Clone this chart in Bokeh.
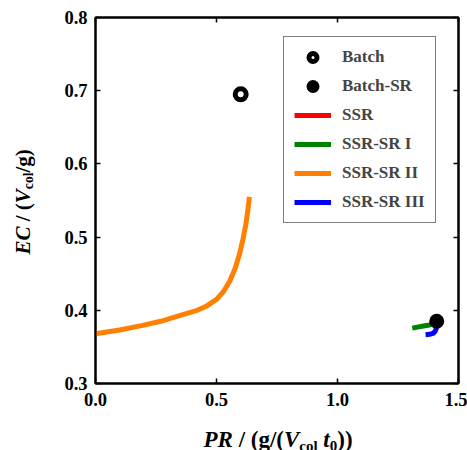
import math

from bokeh.embed import file_html
from bokeh.layouts import column, row
from bokeh.models import (FixedTicker, Label, Legend, LegendItem, LinearAxis,
                          NumeralTickFormatter, Range1d)
from bokeh.plotting import figure
from bokeh.resources import INLINE

# ---------------------------------------------------------------------------
# Data: productivity PR vs. eluent consumption EC
# ---------------------------------------------------------------------------
batch_pr = [0.600]
batch_ec = [0.695]

batch_sr_pr = [1.410]
batch_sr_ec = [0.385]

ssr_pr = [1.390, 1.400, 1.410]
ssr_ec = [0.382, 0.383, 0.385]

ssr_sr1_pr = [1.309, 1.330, 1.355, 1.380, 1.400, 1.410]
ssr_sr1_ec = [0.3757, 0.3770, 0.3785, 0.3800, 0.3820, 0.3850]

ssr_sr2_pr = [0.000, 0.100, 0.190, 0.270, 0.350, 0.420, 0.460, 0.500,
              0.530, 0.555, 0.578, 0.596, 0.610, 0.621, 0.629, 0.636]
ssr_sr2_ec = [0.368, 0.373, 0.379, 0.385, 0.393, 0.400, 0.406, 0.415,
              0.426, 0.440, 0.458, 0.478, 0.498, 0.517, 0.535, 0.555]

ssr_sr3_pr = [1.364, 1.380, 1.395, 1.403, 1.408, 1.411]
ssr_sr3_ec = [0.3667, 0.3672, 0.3685, 0.3710, 0.3750, 0.3800]

x_ticks = [0.0, 0.5, 1.0, 1.5]
y_ticks = [0.3, 0.4, 0.5, 0.6, 0.7, 0.8]

FONT = "Liberation Serif"

# Panel sizes (px)
YLAB_W = 40
MAIN_W = 427
MAIN_H = 415
XLAB_H = 35
BORDER_L = 55
BORDER_R = 9

p = figure(width=MAIN_W, height=MAIN_H,
           x_range=Range1d(0.0, 1.5), y_range=Range1d(0.3, 0.8),
           x_axis_type=None, y_axis_type=None,
           output_backend="svg", toolbar_location=None,
           min_border_left=BORDER_L, min_border_right=BORDER_R,
           min_border_top=17, min_border_bottom=32,
           background_fill_color="white", border_fill_color="white",
           outline_line_color="black", outline_line_width=2)
p.grid.visible = False


def make_axis(ticks, labels, standoff=8):
    ax = LinearAxis(ticker=FixedTicker(ticks=ticks),
                    formatter=NumeralTickFormatter(format="0.0"),
                    major_tick_in=5, major_tick_out=0,
                    minor_tick_in=0, minor_tick_out=0,
                    axis_line_width=2, axis_line_color="black",
                    major_tick_line_width=1.5, major_tick_line_color="black",
                    major_label_text_font=FONT,
                    major_label_text_font_style="bold",
                    major_label_text_font_size="18.5px",
                    major_label_text_color="black",
                    major_label_standoff=standoff)
    if not labels:
        # mirrored axis: ticks only
        ax.major_label_text_color = None
        ax.major_label_standoff = 0
    return ax


p.add_layout(make_axis(x_ticks, True, 9), "below")
p.add_layout(make_axis(y_ticks, True, 8), "left")
p.add_layout(make_axis(x_ticks, False), "above")
p.add_layout(make_axis(y_ticks, False), "right")

# Curves
line_kw = dict(line_width=5, line_join="round")
r_ssr = p.line(ssr_pr, ssr_ec, line_color="#ff0000", **line_kw)
r_sr1 = p.line(ssr_sr1_pr, ssr_sr1_ec, line_color="#008000", **line_kw)
r_sr2 = p.line(ssr_sr2_pr, ssr_sr2_ec, line_color="#ff8000", **line_kw)
r_sr3 = p.line(ssr_sr3_pr, ssr_sr3_ec, line_color="#0000ff", **line_kw)

# Batch points
r_batch = p.scatter(batch_pr, batch_ec, marker="circle", size=11,
                    fill_color="white", line_color="black", line_width=5)
r_batch_sr = p.scatter(batch_sr_pr, batch_sr_ec, marker="circle", size=10,
                       fill_color="black", line_color="black", line_width=5)

legend = Legend(items=[
    LegendItem(label="Batch", renderers=[r_batch]),
    LegendItem(label="Batch-SR", renderers=[r_batch_sr]),
    LegendItem(label="SSR", renderers=[r_ssr]),
    LegendItem(label="SSR-SR I", renderers=[r_sr1]),
    LegendItem(label="SSR-SR II", renderers=[r_sr2]),
    LegendItem(label="SSR-SR III", renderers=[r_sr3]),
], location=(188, 160))
legend.border_line_color = "black"
legend.border_line_width = 1.5
legend.background_fill_color = "white"
legend.background_fill_alpha = 1.0
legend.label_text_font = FONT
legend.label_text_font_style = "bold"
legend.label_text_font_size = "17px"
legend.glyph_width = 37
legend.glyph_height = 20
legend.label_height = 20
legend.label_standoff = 11
legend.padding = 10
legend.spacing = 9
legend.margin = 0
p.add_layout(legend, "center")


# ---------------------------------------------------------------------------
# Axis titles: small blank figures holding the rich (italic/subscript) text
# ---------------------------------------------------------------------------
def blank_fig(w, h, x0, x1, left=0, right=0):
    f = figure(width=w, height=h, x_range=Range1d(x0, x1),
               y_range=Range1d(0, h),
               x_axis_type=None, y_axis_type=None, min_border=0,
               min_border_left=left, min_border_right=right,
               output_backend="svg", toolbar_location=None,
               outline_line_color=None, background_fill_color="white",
               border_fill_color="white")
    f.grid.visible = False
    return f


ADV = {  # advance widths per 1000 em (Times metrics)
    " ": 250, "(": 333, ")": 333, "/": 278, "g": 500, "c": 444, "o": 500,
    "l": 278, "0": 500, "P": 611, "R": 667, "E": 667, "C": 667, "V": 667,
    "t": 278,
}


def text_width(s, size):
    return sum(ADV[ch] for ch in s) * size / 1000.0


def write_title(fig, pieces, start, base, size, vertical=False):
    pos = start
    for txt, style, sub in pieces:
        fs = size * 0.65 if sub else size
        shift = size * 0.27 if sub else 0.0
        lead = txt[:len(txt) - len(txt.lstrip())]
        shown = txt.strip()
        if shown:
            at = pos + text_width(lead, fs)
            if vertical:
                lx, ly, ang = base + shift, at, math.pi / 2
            else:
                lx, ly, ang = at, base - shift, 0.0
            fig.add_layout(Label(x=lx, y=ly, text=shown, angle=ang,
                                 text_font=FONT, text_font_style=style,
                                 text_font_size=f"{fs:.1f}px",
                                 text_color="black",
                                 text_align="left",
                                 text_baseline="alphabetic"))
        pos += text_width(txt, fs)


# x title: frame spans the same pixels as the main plot frame
frame_x0 = YLAB_W + BORDER_L
frame_x1 = YLAB_W + MAIN_W - BORDER_R
x_title = [("PR", "bold italic", False), (" / (g/(", "bold", False),
           ("V", "bold italic", False), ("col", "bold", True),
           (" ", "bold", False), ("t", "bold italic", False),
           ("0", "bold", True), ("))", "bold", False)]
xlab = blank_fig(MAIN_W, XLAB_H, frame_x0, frame_x1, BORDER_L, BORDER_R)
write_title(xlab, x_title, start=203, base=11, size=23)

y_title = [("EC", "bold italic", False), (" / (", "bold", False),
           ("V", "bold italic", False), ("col", "bold", True),
           ("/g)", "bold", False)]
ylab = blank_fig(YLAB_W, MAIN_H + XLAB_H, 0, YLAB_W)
write_title(ylab, y_title, start=196, base=22, size=21, vertical=True)

layout = row(ylab, column(p, xlab, spacing=0), spacing=0)

open("out.html", "w").write(file_html(layout, INLINE))
